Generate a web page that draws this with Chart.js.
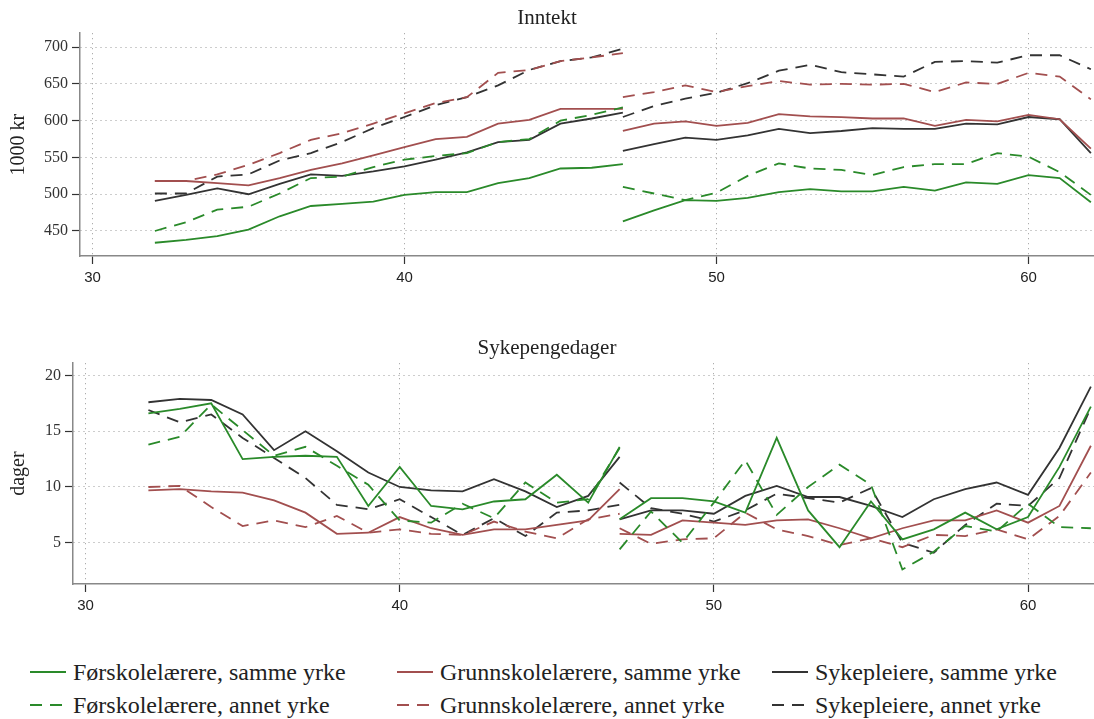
<!DOCTYPE html>
<html>
<head>
<meta charset="utf-8">
<script src="https://cdn.jsdelivr.net/npm/chart.js@4.4.0/dist/chart.umd.min.js"></script>
<style>
  html, body { margin: 0; padding: 0; background: #fff; }
  body { width: 1094px; height: 719px; position: relative; overflow: hidden; font-family: "Liberation Serif", serif; }
  canvas { position: absolute; left: 0; }
  #top { top: 0; }
  #bot { top: 330px; }
  .item { position: absolute; height: 34px; display: flex; align-items: center; font-size: 24px; color: #222; white-space: nowrap; }
  .item svg { margin-right: 7px; }
</style>
</head>
<body>
<canvas id="top" width="1094" height="300"></canvas>
<canvas id="bot" width="1094" height="298"></canvas>
<div id="legend"></div>
<script>
// ages: first segment 32-47, then the lines break and restart at 47
const ageA = [32, 33, 34, 35, 36, 37, 38, 39, 40, 41, 42, 43, 44, 45, 46, 47]
const ageB = [47, 48, 49, 50, 51, 52, 53, 54, 55, 56, 57, 58, 59, 60, 61, 62]

// Inntekt (1000 kr), 16 values for ageA then 16 for ageB
const innForSamme = [434, 438, 443, 452, 470, 484, 487, 490, 499, 503, 503, 515, 522, 535, 536, 541,
    463, 478, 492, 491, 495, 503, 507, 504, 504, 510, 505, 516, 514, 526, 522, 489]
const innForAnnet = [450, 462, 479, 483, 501, 522, 524, 537, 547, 552, 556, 571, 575, 600, 608, 618,
    510, 501, 492, 502, 525, 542, 535, 533, 526, 537, 541, 541, 556, 551, 530, 499]
const innGrunnSamme = [518, 518, 515, 512, 522, 533, 542, 553, 564, 575, 578, 596, 601, 616, 616, 616,
    586, 596, 599, 593, 597, 609, 606, 605, 603, 603, 593, 601, 599, 608, 602, 562]
const innGrunnAnnet = [518, 518, 527, 540, 556, 574, 583, 596, 610, 624, 632, 665, 669, 681, 686, 692,
    632, 639, 648, 639, 647, 654, 649, 650, 649, 650, 639, 652, 650, 665, 660, 629]
const innSykSamme = [491, 499, 508, 500, 514, 527, 525, 531, 538, 547, 557, 571, 574, 596, 603, 611,
    559, 568, 577, 574, 580, 589, 583, 586, 590, 589, 589, 596, 595, 605, 602, 556]
const innSykAnnet = [501, 501, 524, 527, 546, 556, 571, 590, 605, 621, 632, 648, 669, 681, 686, 698,
    605, 620, 630, 638, 651, 668, 676, 666, 663, 660, 680, 681, 679, 689, 689, 670]

// Sykepengedager (dager)
const sykForSamme = [16.6, 17.0, 17.5, 12.5, 12.7, 12.8, 12.7, 8.3, 11.8, 8.3, 8.0, 8.7, 8.9, 11.1, 8.6, 13.6,
    7.1, 9.0, 9.0, 8.7, 7.7, 14.4, 7.9, 4.6, 8.7, 5.3, 6.2, 7.7, 6.2, 7.3, 11.8, 17.2]
const sykForAnnet = [13.8, 14.5, 17.4, 15.1, 12.8, 13.6, 11.9, 10.2, 7.0, 6.8, 8.5, 7.2, 10.4, 8.6, 8.9, 13.5,
    4.4, 7.8, 5.0, 8.6, 12.4, 7.5, 10.0, 12.0, 10.2, 2.6, 4.2, 6.5, 6.0, 8.5, 6.4, 6.3]
const sykGrunnSamme = [9.7, 9.8, 9.6, 9.5, 8.8, 7.7, 5.8, 5.9, 7.3, 6.3, 5.7, 6.2, 6.2, 6.6, 7.0, 9.8,
    5.8, 5.7, 7.0, 6.8, 6.6, 7.0, 7.1, 6.3, 5.4, 6.3, 7.0, 7.0, 7.9, 6.8, 8.3, 13.7]
const sykGrunnAnnet = [10.0, 10.1, 8.2, 6.5, 7.0, 6.4, 7.4, 5.9, 6.2, 5.8, 5.7, 6.9, 6.0, 5.4, 7.1, 7.6,
    6.3, 4.9, 5.3, 5.4, 7.7, 6.2, 5.6, 4.8, 5.4, 4.6, 5.7, 5.6, 6.2, 5.3, 7.4, 11.3]
const sykSykSamme = [17.6, 17.9, 17.8, 16.5, 13.3, 15.0, 13.2, 11.3, 10.0, 9.7, 9.6, 10.7, 9.6, 8.2, 9.2, 12.7,
    7.1, 7.9, 7.9, 7.6, 9.2, 10.1, 9.1, 9.1, 8.3, 7.3, 8.9, 9.8, 10.4, 9.3, 13.5, 19.0]
const sykSykAnnet = [16.9, 15.8, 16.5, 14.4, 12.6, 10.8, 8.4, 8.0, 8.9, 7.3, 5.7, 7.2, 5.6, 7.7, 7.9, 8.4,
    10.4, 8.1, 7.6, 6.9, 7.9, 9.4, 9.0, 8.6, 9.9, 5.0, 4.1, 6.6, 8.5, 8.3, 10.8, 17.1]

const labels = ['Førskolelærere, samme yrke', 'Førskolelærere, annet yrke',
    'Grunnskolelærere, samme yrke', 'Grunnskolelærere, annet yrke',
    'Sykepleiere, samme yrke', 'Sykepleiere, annet yrke']
const xTicks = [30, 40, 50, 60]
const innTicks = [450, 500, 550, 600, 650, 700]
const sykTicks = [5, 10, 15, 20]

const green = '#2a8a2a'
const red = '#a24f4f'
const black = '#333333'
const colors = [green, green, red, red, black, black]
const dashes = [[], [12, 8], [], [12, 8], [], [12, 8]]

function points(vals) {
    let pts = ageA.map((x, i) => ({x, y: vals[i]}))
    pts.push({x: 47, y: null})
    ageB.forEach((x, i) => pts.push({x, y: vals[ageA.length + i]}))
    return pts
}

function makeDatasets(list) {
    return list.map((vals, i) => ({
        label: labels[i],
        data: points(vals),
        borderColor: colors[i],
        borderWidth: 1.8,
        borderDash: dashes[i],
        pointRadius: 0,
        tension: 0,
        spanGaps: false,
        fill: false,
    }))
}

const serif = '"Liberation Serif", "Times New Roman", serif'

function panel(id, title, yTitle, yMin, yMax, yTicks, axisW, list) {
    new Chart(document.getElementById(id), {
        type: 'line',
        data: {datasets: makeDatasets(list)},
        options: {
            responsive: false,
            animation: false,
            layout: {padding: 0},
            plugins: {
                legend: {display: false},
                tooltip: {enabled: false},
                title: {
                    display: true,
                    text: title,
                    color: '#222',
                    font: {family: serif, size: 21, weight: 'normal'},
                    padding: {top: 6, bottom: 2},
                },
            },
            scales: {
                x: {
                    type: 'linear',
                    min: 29.6,
                    max: 62.1,
                    afterBuildTicks: (s) => { s.ticks = xTicks.map((v) => ({value: v})) },
                    afterFit: (s) => { s.height = 44 },
                    ticks: {
                        color: '#222',
                        font: {family: '"Liberation Sans", sans-serif', size: 15},
                        padding: 5,
                        maxRotation: 0,
                        autoSkip: false,
                    },
                    grid: {color: '#9a9a9a', lineWidth: 1, tickLength: 8, tickColor: '#333', tickWidth: 1.2},
                    border: {color: '#888', width: 1.5, dash: [1, 4]},
                },
                y: {
                    min: yMin,
                    max: yMax,
                    afterBuildTicks: (s) => { s.ticks = yTicks.map((v) => ({value: v})) },
                    afterFit: (s) => { s.width = axisW },
                    ticks: {
                        color: '#333',
                        font: {family: serif, size: 16},
                        padding: 4,
                    },
                    grid: {color: '#9a9a9a', lineWidth: 1, tickLength: 8, tickColor: '#333', tickWidth: 1.2},
                    border: {color: '#888', width: 1.5, dash: [1, 4]},
                    title: {
                        display: true,
                        text: yTitle,
                        color: '#222',
                        font: {family: serif, size: 20},
                        padding: {top: 7, bottom: 0},
                    },
                },
            },
        },
    })
}

panel('top', 'Inntekt', '1000 kr', 416, 719, innTicks, 80,
    [innForSamme, innForAnnet, innGrunnSamme, innGrunnAnnet, innSykSamme, innSykAnnet])
panel('bot', 'Sykepengedager', 'dager', 1.3, 21.1, sykTicks, 73,
    [sykForSamme, sykForAnnet, sykGrunnSamme, sykGrunnAnnet, sykSykSamme, sykSykAnnet])

// legend: three columns (yrkesgruppe), two rows (samme / annet yrke)
const legend = document.getElementById('legend')
const colX = [30, 397, 772]
const rowY = [655, 688]
labels.forEach((text, i) => {
    let col = Math.floor(i / 2)
    let row = i % 2
    let div = document.createElement('div')
    div.className = 'item'
    div.style.left = colX[col] + 'px'
    div.style.top = rowY[row] + 'px'
    let dash = dashes[i].length ? `stroke-dasharray="${dashes[i].join(' ')}"` : ''
    div.innerHTML = `<svg width="36" height="6"><line x1="0" y1="3" x2="36" y2="3" stroke="${colors[i]}" stroke-width="2.2" ${dash}/></svg>`
    let span = document.createElement('span')
    span.textContent = text
    div.appendChild(span)
    legend.appendChild(div)
})
</script>
</body>
</html>
